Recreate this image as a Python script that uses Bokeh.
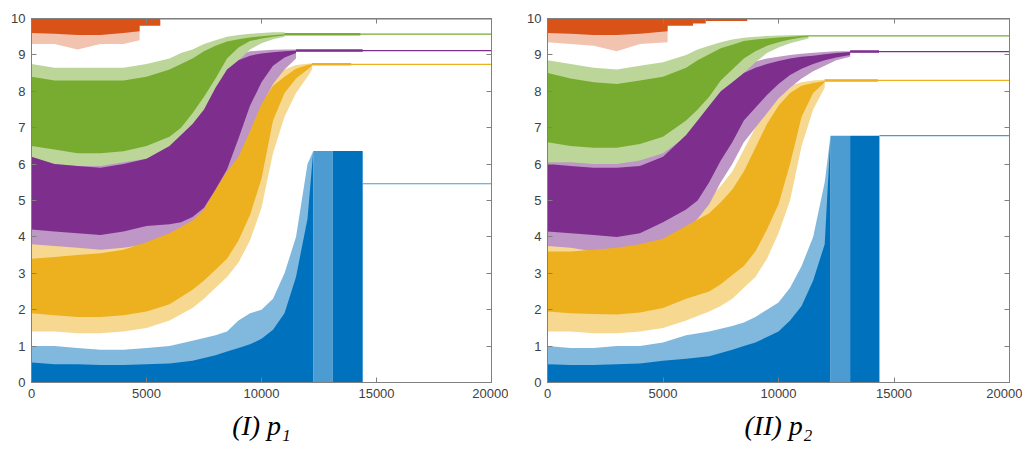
from bokeh.plotting import figure
from bokeh.layouts import row
from bokeh.models import Range1d, LinearAxis, FixedTicker, CustomJSTickFormatter, Title
from bokeh.embed import file_html
from bokeh.resources import INLINE

# ---------------- data ----------------
X_TICKS = [0, 5000, 10000, 15000, 20000]
Y_TICKS = [0, 1, 2, 3, 4, 5, 6, 7, 8, 9, 10]
CAPTIONS = ["(I) p\u2081", "(II) p\u2082"]
X_MAX = 20000

BLUE, ORANGE, YELLOW, PURPLE, GREEN = "#0072BD", "#D95319", "#EDB120", "#7E2F8E", "#77AC30"

# ----- panel I -----
P1_ORANGE_X = [0, 1000, 2000, 3000, 4000, 4700]
P1_ORANGE_LO = [9.6, 9.58, 9.55, 9.55, 9.6, 9.65]
P1_ORANGE_LO_SPIKE = [9.3, 9.3, 9.15, 9.3, 9.3, 9.4]
P1_ORANGE_BAR_LEFT = [0]
P1_ORANGE_BAR_RIGHT = [5600]
P1_ORANGE_BAR_BOTTOM = [9.8]
P1_ORANGE_FINAL = 10.0

P1_GREEN_X = [0, 1000, 2000, 3000, 4000, 5000, 6000, 6500, 7000, 7500, 8000, 8500, 9000, 9500, 10000, 10500, 11000]
P1_GREEN_HI = [8.4, 8.3, 8.3, 8.3, 8.3, 8.4, 8.6, 8.75, 8.9, 9.1, 9.25, 9.37, 9.43, 9.48, 9.51, 9.54, 9.57]
P1_GREEN_LO = [6.5, 6.4, 6.3, 6.3, 6.35, 6.5, 6.75, 7.0, 7.4, 7.85, 8.35, 8.9, 9.2, 9.38, 9.45, 9.5, 9.53]
P1_GREEN_HI_SPIKE = [8.75, 8.65, 8.65, 8.65, 8.65, 8.75, 8.9, 9.05, 9.15, 9.3, 9.4, 9.5, 9.55, 9.58, 9.6, 9.62, 9.62]
P1_GREEN_LO_SPIKE = [6.05, 6.0, 5.95, 5.95, 6.05, 6.15, 6.35, 6.55, 6.85, 7.3, 7.8, 8.4, 8.85, 9.15, 9.32, 9.43, 9.5]
P1_GREEN_FINAL = 9.57
P1_GREEN_FLECK_END = 14300

P1_PURPLE_X = [0, 1000, 2000, 3000, 4000, 5000, 6000, 6500, 7000, 7500, 8000, 8500, 9000, 9500, 10000, 10500, 11000, 11500]
P1_PURPLE_HI = [6.2, 6.0, 5.95, 5.9, 6.0, 6.15, 6.5, 6.8, 7.1, 7.5, 8.1, 8.6, 8.85, 8.98, 9.04, 9.07, 9.1, 9.12]
P1_PURPLE_LO = [4.2, 4.15, 4.1, 4.05, 4.15, 4.3, 4.35, 4.4, 4.55, 4.8, 5.3, 5.85, 6.7, 7.6, 8.25, 8.7, 8.93, 9.05]
P1_PURPLE_HI_SPIKE = [6.55, 6.35, 6.3, 6.25, 6.35, 6.5, 6.85, 7.15, 7.5, 7.95, 8.45, 8.8, 9.0, 9.1, 9.12, 9.14, 9.15, 9.15]
P1_PURPLE_LO_SPIKE = [3.8, 3.75, 3.7, 3.65, 3.7, 3.8, 3.9, 4.0, 4.1, 4.3, 4.7, 5.2, 5.9, 6.8, 7.6, 8.2, 8.6, 8.9]
P1_PURPLE_FINAL = 9.12
P1_PURPLE_FLECK_END = 14400

P1_YELLOW_X = [0, 1000, 2000, 3000, 4000, 5000, 6000, 7000, 7500, 8000, 8500, 9000, 9500, 10000, 10500, 11000, 11500, 12000, 12200]
P1_YELLOW_HI = [3.4, 3.45, 3.5, 3.55, 3.65, 3.85, 4.1, 4.45, 4.75, 5.3, 5.8, 6.2, 6.9, 7.65, 8.15, 8.4, 8.62, 8.72, 8.75]
P1_YELLOW_LO = [1.9, 1.85, 1.8, 1.8, 1.85, 1.95, 2.15, 2.55, 2.8, 3.1, 3.4, 3.9, 4.6, 5.6, 7.2, 7.95, 8.35, 8.6, 8.7]
P1_YELLOW_HI_SPIKE = [3.85, 3.9, 3.95, 4.0, 4.1, 4.3, 4.55, 4.9, 5.2, 5.8, 6.3, 6.8, 7.4, 8.0, 8.4, 8.6, 8.72, 8.76, 8.77]
P1_YELLOW_LO_SPIKE = [1.4, 1.4, 1.35, 1.35, 1.4, 1.5, 1.7, 2.05, 2.3, 2.6, 2.9, 3.3, 3.9, 4.8, 6.3, 7.3, 7.95, 8.4, 8.6]
P1_YELLOW_FINAL = 8.74
P1_YELLOW_FLECK_END = 13900

P1_BLUE_X = [0, 1000, 2000, 3000, 4000, 5000, 6000, 7000, 8000, 8500, 9000, 9500, 10000, 10500, 11000, 11500, 12000, 12250]
P1_BLUE_HI = [0.55, 0.5, 0.5, 0.48, 0.48, 0.5, 0.52, 0.6, 0.75, 0.85, 0.95, 1.05, 1.2, 1.45, 1.9, 2.9, 4.5, 6.36]
P1_BLUE_HI_SPIKE = [1.0, 1.0, 0.95, 0.9, 0.9, 0.95, 1.0, 1.15, 1.3, 1.4, 1.7, 1.9, 2.0, 2.3, 3.0, 4.0, 6.0, 6.36]
P1_BLUE_SPARSE = [12250, 13100]
P1_BLUE_SOLID = [13100, 14400]
P1_BLUE_BLOCK_TOP = 6.36
P1_BLUE_FINAL = 5.46

# ----- panel II -----
P2_ORANGE_X = [0, 1000, 2000, 3000, 4000, 5200]
P2_ORANGE_LO = [9.6, 9.58, 9.55, 9.55, 9.58, 9.65]
P2_ORANGE_LO_SPIKE = [9.35, 9.3, 9.25, 9.1, 9.3, 9.35]
P2_ORANGE_BAR_LEFT = [0, 6300, 6850]
P2_ORANGE_BAR_RIGHT = [6300, 6850, 8650]
P2_ORANGE_BAR_BOTTOM = [9.8, 9.86, 9.93]
P2_ORANGE_FINAL = 10.0

P2_GREEN_X = [0, 1000, 2000, 3000, 4000, 5000, 6000, 6500, 7000, 7500, 8000, 8500, 9000, 9500, 10000, 10500, 11000, 11300]
P2_GREEN_HI = [8.5, 8.35, 8.25, 8.2, 8.3, 8.4, 8.65, 8.85, 9.02, 9.18, 9.28, 9.38, 9.42, 9.45, 9.48, 9.5, 9.52, 9.53]
P2_GREEN_LO = [6.6, 6.5, 6.45, 6.45, 6.55, 6.75, 7.2, 7.5, 7.85, 8.3, 8.6, 8.9, 9.1, 9.25, 9.35, 9.42, 9.48, 9.5]
P2_GREEN_HI_SPIKE = [8.85, 8.75, 8.65, 8.6, 8.7, 8.8, 9.0, 9.15, 9.25, 9.35, 9.42, 9.47, 9.5, 9.52, 9.53, 9.54, 9.55, 9.55]
P2_GREEN_LO_SPIKE = [6.05, 6.05, 6.0, 6.0, 6.1, 6.3, 6.75, 7.05, 7.45, 7.85, 8.2, 8.5, 8.8, 9.05, 9.2, 9.32, 9.4, 9.45]
P2_GREEN_FINAL = 9.52
P2_GREEN_FLECK_END = 11300

P2_PURPLE_X = [0, 1000, 2000, 3000, 4000, 5000, 6000, 6500, 7000, 7500, 8000, 8500, 9000, 9500, 10000, 10500, 11000, 11500, 12000, 12500, 13100]
P2_PURPLE_HI = [6.0, 5.95, 5.9, 5.9, 5.95, 6.2, 6.8, 7.2, 7.6, 8.0, 8.25, 8.5, 8.65, 8.75, 8.83, 8.9, 8.95, 8.98, 9.02, 9.05, 9.08]
P2_PURPLE_LO = [4.15, 4.1, 4.05, 4.0, 4.1, 4.4, 4.75, 5.0, 5.5, 6.1, 6.6, 7.2, 7.55, 7.9, 8.2, 8.45, 8.62, 8.75, 8.85, 8.93, 9.0]
P2_PURPLE_HI_SPIKE = [6.4, 6.3, 6.3, 6.25, 6.35, 6.6, 7.2, 7.55, 7.95, 8.3, 8.5, 8.7, 8.82, 8.9, 8.95, 9.0, 9.03, 9.06, 9.08, 9.1, 9.1]
P2_PURPLE_LO_SPIKE = [3.75, 3.7, 3.6, 3.55, 3.6, 3.9, 4.2, 4.5, 4.9, 5.5, 6.0, 6.6, 7.0, 7.4, 7.8, 8.1, 8.35, 8.55, 8.7, 8.85, 8.95]
P2_PURPLE_FINAL = 9.09
P2_PURPLE_FLECK_END = 14350

P2_YELLOW_X = [0, 1000, 2000, 3000, 4000, 5000, 6000, 7000, 7500, 8000, 8500, 9000, 9500, 10000, 10500, 11000, 11500, 12000]
P2_YELLOW_HI = [3.6, 3.6, 3.65, 3.7, 3.8, 3.95, 4.3, 4.65, 4.95, 5.3, 5.8, 6.45, 7.1, 7.6, 7.95, 8.15, 8.23, 8.28]
P2_YELLOW_LO = [1.95, 1.9, 1.88, 1.87, 1.92, 2.05, 2.3, 2.5, 2.7, 2.95, 3.2, 3.6, 4.2, 4.9, 6.0, 7.3, 7.95, 8.25]
P2_YELLOW_HI_SPIKE = [4.0, 4.0, 4.05, 4.1, 4.2, 4.35, 4.7, 5.05, 5.4, 5.8, 6.4, 7.0, 7.5, 7.9, 8.15, 8.25, 8.3, 8.32]
P2_YELLOW_LO_SPIKE = [1.4, 1.4, 1.35, 1.35, 1.4, 1.5, 1.7, 1.95, 2.1, 2.3, 2.6, 2.9, 3.4, 4.1, 5.0, 6.5, 7.5, 8.1]
P2_YELLOW_FINAL = 8.3
P2_YELLOW_FLECK_END = 14300

P2_BLUE_X = [0, 1000, 2000, 3000, 4000, 5000, 6000, 7000, 8000, 8500, 9000, 9500, 10000, 10500, 11000, 11500, 12000, 12250]
P2_BLUE_HI = [0.5, 0.48, 0.48, 0.5, 0.52, 0.6, 0.65, 0.72, 0.9, 1.0, 1.1, 1.25, 1.4, 1.7, 2.1, 2.8, 3.8, 6.78]
P2_BLUE_HI_SPIKE = [1.0, 0.95, 0.95, 1.0, 1.0, 1.1, 1.3, 1.4, 1.55, 1.65, 1.8, 2.0, 2.2, 2.6, 3.2, 4.0, 5.5, 6.78]
P2_BLUE_SPARSE = [12250, 13100]
P2_BLUE_SOLID = [13100, 14370]
P2_BLUE_BLOCK_TOP = 6.78
P2_BLUE_FINAL = 6.78

AX_COLOR = "#808080"
LABEL_COLOR = "#404040"


def lighten(hex_color, a):
    r, g, b = (int(hex_color[i:i + 2], 16) for i in (1, 3, 5))
    mix = lambda c: int(round(255 - (255 - c) * a))
    return "#%02x%02x%02x" % (mix(r), mix(g), mix(b))


def flat(p, x0, fleck_end, value, color):
    if fleck_end > x0:
        p.line(x=[x0, fleck_end], y=[value, value], line_color=color, line_width=2.5)
    p.line(x=[x0, X_MAX], y=[value, value], line_color=color, line_width=1.2)


def make_panel(d, caption, width, ml, mr):
    p = figure(width=width, height=447, x_range=Range1d(0, X_MAX), y_range=Range1d(0, 10),
               output_backend="svg", toolbar_location=None,
               min_border_left=ml, min_border_right=mr, min_border_top=18, min_border_bottom=8)
    p.xgrid.visible = False
    p.ygrid.visible = False
    p.outline_line_color = AX_COLOR
    p.background_fill_color = "white"
    p.border_fill_color = "white"

    # ---- spike fringes (lighter), drawn first ----
    zeros = [0.0] * len(d["blue_x"])
    p.varea(x=d["blue_x"], y1=zeros, y2=d["blue_hi_s"], fill_color=lighten(BLUE, 0.5))
    ones = [10.0] * len(d["orange_x"])
    p.varea(x=d["orange_x"], y1=d["orange_lo_s"], y2=ones, fill_color=lighten(ORANGE, 0.35))
    for key, color in (("yellow", YELLOW), ("purple", PURPLE), ("green", GREEN)):
        p.varea(x=d[key + "_x"], y1=d[key + "_lo_s"], y2=d[key + "_hi_s"], fill_color=lighten(color, 0.5))

    # ---- dense cores ----
    p.varea(x=d["blue_x"], y1=zeros, y2=d["blue_hi"], fill_color=BLUE)
    p.quad(left=[d["blue_sparse"][0]], right=[d["blue_sparse"][1]], bottom=[0], top=[d["blue_top"]],
           fill_color=lighten(BLUE, 0.7), line_color=None)
    p.quad(left=[d["blue_solid"][0]], right=[d["blue_solid"][1]], bottom=[0], top=[d["blue_top"]],
           fill_color=BLUE, line_color=None)
    p.line(x=[d["blue_solid"][1], X_MAX], y=[d["blue_final"], d["blue_final"]],
           line_color="#4a9ad6", line_width=1.2)

    p.varea(x=d["orange_x"], y1=d["orange_lo"], y2=ones, fill_color=ORANGE)
    p.quad(left=d["orange_bar_l"], right=d["orange_bar_r"], bottom=d["orange_bar_b"],
           top=[10.0] * len(d["orange_bar_l"]), fill_color=ORANGE, line_color=None)
    p.line(x=[d["orange_bar_r"][-1], X_MAX], y=[d["orange_final"]] * 2, line_color=ORANGE, line_width=2)

    for key, color in (("yellow", YELLOW), ("purple", PURPLE), ("green", GREEN)):
        xs = d[key + "_x"]
        p.varea(x=xs, y1=d[key + "_lo"], y2=d[key + "_hi"], fill_color=color)
        flat(p, xs[-1], d[key + "_fleck"], d[key + "_final"], color)

    # ---- axes ----
    for ax in (p.xaxis[0], p.yaxis[0]):
        ax.major_tick_in = 5
        ax.major_tick_out = 0
        ax.minor_tick_line_color = None
        ax.axis_line_color = AX_COLOR
        ax.major_tick_line_color = AX_COLOR
        ax.major_label_text_font = "Liberation Sans"
        ax.major_label_text_font_size = "13px"
        ax.major_label_text_color = LABEL_COLOR
        ax.major_label_standoff = 6
    p.xaxis[0].ticker = FixedTicker(ticks=X_TICKS)
    p.yaxis[0].ticker = FixedTicker(ticks=Y_TICKS)

    blank = CustomJSTickFormatter(code="return ''")
    right = LinearAxis(ticker=FixedTicker(ticks=Y_TICKS), formatter=blank,
                       major_tick_in=5, major_tick_out=0, minor_tick_line_color=None,
                       axis_line_color=AX_COLOR, major_tick_line_color=AX_COLOR,
                       major_label_standoff=0, major_label_text_font_size="1px")
    top = LinearAxis(ticker=FixedTicker(ticks=X_TICKS), formatter=blank,
                     major_tick_in=5, major_tick_out=0, minor_tick_line_color=None,
                     axis_line_color=AX_COLOR, major_tick_line_color=AX_COLOR,
                     major_label_standoff=0, major_label_text_font_size="1px")
    p.add_layout(right, "right")
    p.add_layout(top, "above")

    p.add_layout(Title(text=caption, align="center", text_font="Liberation Serif",
                       text_font_style="italic", text_font_size="28px", text_color="black",
                       standoff=14), "below")
    return p


D1 = dict(
    orange_x=P1_ORANGE_X, orange_lo=P1_ORANGE_LO, orange_lo_s=P1_ORANGE_LO_SPIKE,
    orange_bar_l=P1_ORANGE_BAR_LEFT, orange_bar_r=P1_ORANGE_BAR_RIGHT, orange_bar_b=P1_ORANGE_BAR_BOTTOM,
    orange_final=P1_ORANGE_FINAL,
    green_x=P1_GREEN_X, green_hi=P1_GREEN_HI, green_lo=P1_GREEN_LO, green_hi_s=P1_GREEN_HI_SPIKE,
    green_lo_s=P1_GREEN_LO_SPIKE, green_final=P1_GREEN_FINAL, green_fleck=P1_GREEN_FLECK_END,
    purple_x=P1_PURPLE_X, purple_hi=P1_PURPLE_HI, purple_lo=P1_PURPLE_LO, purple_hi_s=P1_PURPLE_HI_SPIKE,
    purple_lo_s=P1_PURPLE_LO_SPIKE, purple_final=P1_PURPLE_FINAL, purple_fleck=P1_PURPLE_FLECK_END,
    yellow_x=P1_YELLOW_X, yellow_hi=P1_YELLOW_HI, yellow_lo=P1_YELLOW_LO, yellow_hi_s=P1_YELLOW_HI_SPIKE,
    yellow_lo_s=P1_YELLOW_LO_SPIKE, yellow_final=P1_YELLOW_FINAL, yellow_fleck=P1_YELLOW_FLECK_END,
    blue_x=P1_BLUE_X, blue_hi=P1_BLUE_HI, blue_hi_s=P1_BLUE_HI_SPIKE, blue_sparse=P1_BLUE_SPARSE,
    blue_solid=P1_BLUE_SOLID, blue_top=P1_BLUE_BLOCK_TOP, blue_final=P1_BLUE_FINAL,
)
D2 = dict(
    orange_x=P2_ORANGE_X, orange_lo=P2_ORANGE_LO, orange_lo_s=P2_ORANGE_LO_SPIKE,
    orange_bar_l=P2_ORANGE_BAR_LEFT, orange_bar_r=P2_ORANGE_BAR_RIGHT, orange_bar_b=P2_ORANGE_BAR_BOTTOM,
    orange_final=P2_ORANGE_FINAL,
    green_x=P2_GREEN_X, green_hi=P2_GREEN_HI, green_lo=P2_GREEN_LO, green_hi_s=P2_GREEN_HI_SPIKE,
    green_lo_s=P2_GREEN_LO_SPIKE, green_final=P2_GREEN_FINAL, green_fleck=P2_GREEN_FLECK_END,
    purple_x=P2_PURPLE_X, purple_hi=P2_PURPLE_HI, purple_lo=P2_PURPLE_LO, purple_hi_s=P2_PURPLE_HI_SPIKE,
    purple_lo_s=P2_PURPLE_LO_SPIKE, purple_final=P2_PURPLE_FINAL, purple_fleck=P2_PURPLE_FLECK_END,
    yellow_x=P2_YELLOW_X, yellow_hi=P2_YELLOW_HI, yellow_lo=P2_YELLOW_LO, yellow_hi_s=P2_YELLOW_HI_SPIKE,
    yellow_lo_s=P2_YELLOW_LO_SPIKE, yellow_final=P2_YELLOW_FINAL, yellow_fleck=P2_YELLOW_FLECK_END,
    blue_x=P2_BLUE_X, blue_hi=P2_BLUE_HI, blue_hi_s=P2_BLUE_HI_SPIKE, blue_sparse=P2_BLUE_SPARSE,
    blue_solid=P2_BLUE_SOLID, blue_top=P2_BLUE_BLOCK_TOP, blue_final=P2_BLUE_FINAL,
)

p1 = make_panel(D1, CAPTIONS[0], 508, 31, 17)
p2 = make_panel(D2, CAPTIONS[1], 514, 39, 13)

layout = row(p1, p2)
open("out.html", "w").write(file_html(layout, INLINE))
